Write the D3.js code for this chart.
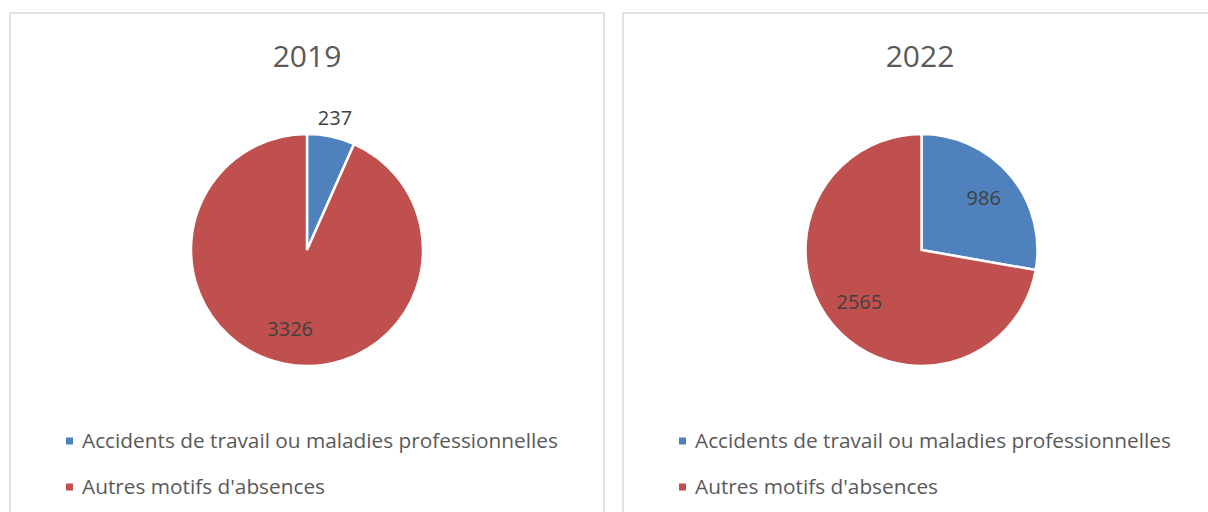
<!DOCTYPE html>
<html>
<head>
<meta charset="utf-8">
<script src="https://cdn.jsdelivr.net/npm/d3@7"></script>
<style>
  body { margin: 0; background: #fff; }
  text { font-family: "Open Sans", sans-serif; }
</style>
</head>
<body>
<div id="chart"></div>
<script>
const years = ["2019", "2022"];
const categories = ["Accidents de travail ou maladies professionnelles", "Autres motifs d'absences"];
const accidents = [237, 986];
const autres = [3326, 2565];
const colors = ["#4F81BD", "#C0504D"];

const dims = { width: 1208, height: 512, panelW: 594, panelTop: 13, radius: 116, pieY: 250 };
const panelX = [10, 623];

const svg = d3.select("#chart")
    .append("svg")
    .attr("width", dims.width)
    .attr("height", dims.height);

const pie = d3.pie().sort(null).value(d => d.value);
const arc = d3.arc().innerRadius(0).outerRadius(dims.radius);
const color = d3.scaleOrdinal().domain(categories).range(colors);

years.forEach((year, i) => {
    const slices = [
        { cat: categories[0], value: accidents[i] },
        { cat: categories[1], value: autres[i] }
    ];
    const x0 = panelX[i];
    const cx = x0 + dims.panelW / 2;

    const g = svg.append("g");

    g.append("rect")
        .attr("x", x0)
        .attr("y", dims.panelTop)
        .attr("width", dims.panelW)
        .attr("height", dims.height + 20)
        .attr("fill", "#fff")
        .attr("stroke", "#d9d9d9")
        .attr("stroke-width", 1.5);

    g.append("text")
        .attr("x", cx)
        .attr("y", 67)
        .attr("text-anchor", "middle")
        .attr("fill", "#595959")
        .style("font-size", "30px")
        .text(year);

    const pg = g.append("g").attr("transform", `translate(${cx + i * 1.5},${dims.pieY})`);
    const arcs = pie(slices);

    pg.selectAll("path")
        .data(arcs)
        .join("path")
        .attr("d", arc)
        .attr("fill", d => color(d.data.cat))
        .attr("stroke", "#fff")
        .attr("stroke-width", 2.5)
        .attr("stroke-linejoin", "miter");

    pg.selectAll("text")
        .data(arcs)
        .join("text")
        .attr("transform", d => {
            const a = (d.startAngle + d.endAngle) / 2;
            const small = d.endAngle - d.startAngle < 0.6;
            const r = small ? dims.radius + 19 : dims.radius * 0.7;
            return `translate(${Math.sin(a) * r},${-Math.cos(a) * r})`;
        })
        .attr("text-anchor", "middle")
        .attr("dy", "0.35em")
        .attr("fill", "#404040")
        .style("font-size", "20px")
        .text(d => d.data.value);

    const lg = g.append("g")
        .selectAll("g")
        .data(categories)
        .join("g")
        .attr("transform", (d, j) => `translate(${x0 + 56},${441 + j * 46})`);

    lg.append("rect")
        .attr("x", 0)
        .attr("y", -3.5)
        .attr("width", 7)
        .attr("height", 7)
        .attr("fill", d => color(d));

    lg.append("text")
        .attr("x", 16)
        .attr("dy", "0.35em")
        .attr("fill", "#595959")
        .style("font-size", "20.8px")
        .text(d => d);
});
</script>
</body>
</html>
